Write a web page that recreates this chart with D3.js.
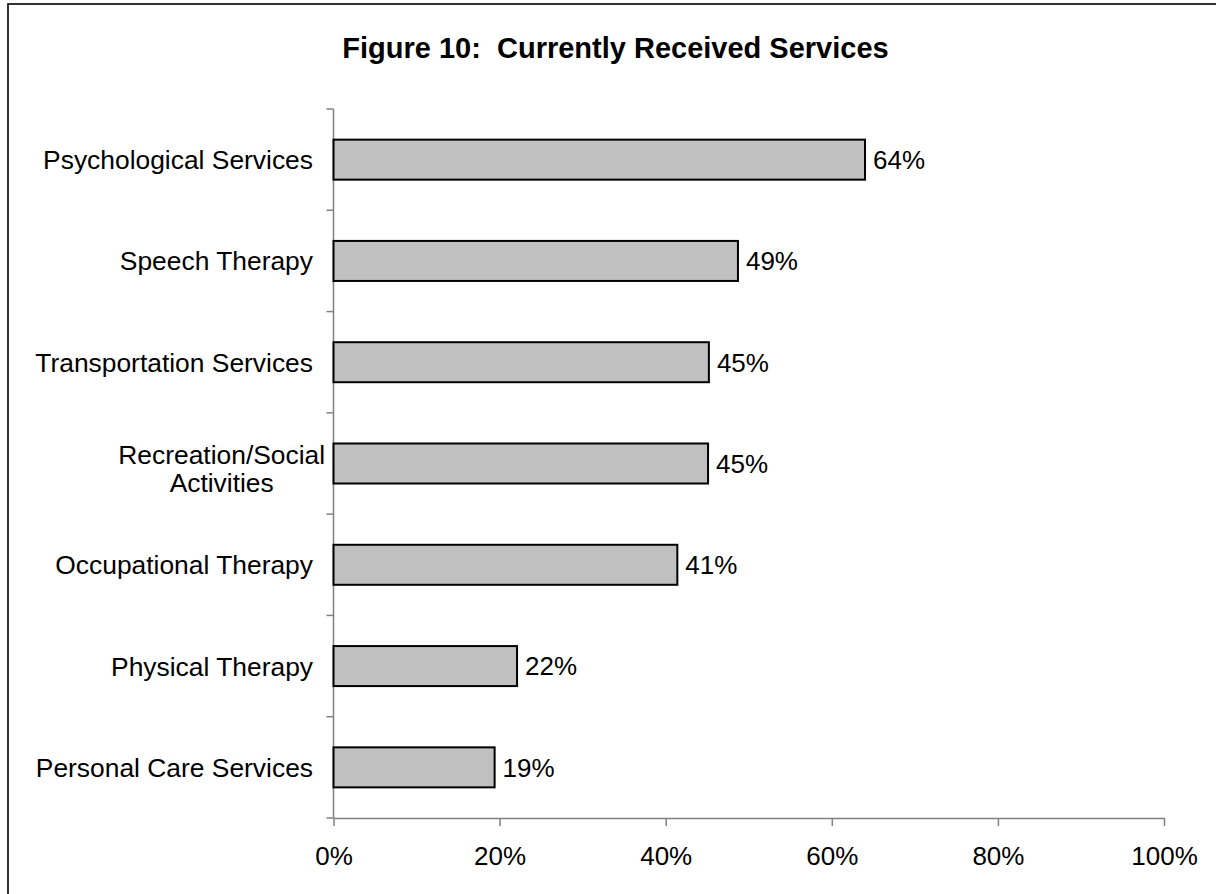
<!DOCTYPE html>
<html>
<head>
<meta charset="utf-8">
<script src="https://cdn.jsdelivr.net/npm/d3@7"></script>
<style>
  html, body { margin: 0; padding: 0; background: #fff; }
  svg { display: block; font-family: "Liberation Sans", Arial, sans-serif; }
</style>
</head>
<body>
<svg id="chart" width="1216" height="894"></svg>
<script>
const title = "Figure 10:  Currently Received Services";
const categories = [
  ["Psychological Services"],
  ["Speech Therapy"],
  ["Transportation Services"],
  ["Recreation/Social", "Activities"],
  ["Occupational Therapy"],
  ["Physical Therapy"],
  ["Personal Care Services"]
];
const values = [0.64, 0.487, 0.452, 0.451, 0.414, 0.221, 0.194];
const valueLabels = ["64%", "49%", "45%", "45%", "41%", "22%", "19%"];
const xTickValues = [0, 0.2, 0.4, 0.6, 0.8, 1.0];

const svg = d3.select("#chart");
const W = 1216, H = 894;
const plot = { left: 333.5, right: 1164, top: 109, bottom: 818 };

// outer frame (extends beyond the viewport at right/bottom)
svg.append("rect")
  .attr("x", 8).attr("y", 4)
  .attr("width", W + 20).attr("height", H + 20)
  .attr("fill", "none").attr("stroke", "#000").attr("stroke-width", 1.6);

svg.append("text")
  .attr("x", 615.5).attr("y", 58)
  .attr("text-anchor", "middle")
  .attr("font-size", 29).attr("font-weight", "bold")
  .style("white-space", "pre")
  .text(title);

const keys = categories.map((c, i) => i);
const x = d3.scaleLinear().domain([0, 1]).range([plot.left, plot.right]);
const p = 0.605;
const y = d3.scaleBand().domain(keys).range([plot.top, plot.bottom])
  .paddingInner(p).paddingOuter(p / 2);
const yEdges = d3.scaleBand().domain(keys).range([plot.top, plot.bottom]).padding(0);

const axisColor = "#808080";

// y axis line + ticks at band edges
const yg = svg.append("g");
yg.append("line")
  .attr("x1", x(0)).attr("x2", x(0))
  .attr("y1", plot.top).attr("y2", plot.bottom)
  .attr("stroke", axisColor).attr("stroke-width", 1.5);
const edges = keys.map(k => yEdges(k)).concat([yEdges(keys[keys.length - 1]) + yEdges.step()]);
yg.selectAll("line.tick").data(edges).enter().append("line")
  .attr("class", "tick")
  .attr("x1", x(0) - 7).attr("x2", x(0))
  .attr("y1", d => d).attr("y2", d => d)
  .attr("stroke", axisColor).attr("stroke-width", 1.5);

// x axis
const xg = svg.append("g")
  .attr("transform", `translate(0,${plot.bottom})`)
  .call(d3.axisBottom(x).tickValues(xTickValues).tickFormat(d3.format(".0%")).tickSize(8).tickSizeOuter(0));
xg.select(".domain").attr("stroke", axisColor).attr("stroke-width", 1.5);
xg.selectAll(".tick line").attr("stroke", axisColor).attr("stroke-width", 1.5);
xg.selectAll(".tick text")
  .attr("font-size", 26).attr("font-family", "Liberation Sans, Arial, sans-serif")
  .attr("fill", "#000").attr("dy", null).attr("y", 47);

// bars
svg.append("g").selectAll("rect").data(values).enter().append("rect")
  .attr("x", x(0))
  .attr("y", (d, i) => y(i))
  .attr("width", d => x(d) - x(0))
  .attr("height", y.bandwidth())
  .attr("fill", "#c0c0c0").attr("stroke", "#000").attr("stroke-width", 2);

// value labels
svg.append("g").selectAll("text").data(values).enter().append("text")
  .attr("x", d => x(d) + 8)
  .attr("y", (d, i) => y(i) + y.bandwidth() / 2)
  .attr("dy", "0.36em")
  .attr("font-size", 26)
  .text((d, i) => valueLabels[i]);

// category labels
const lg = svg.append("g");
categories.forEach((lines, i) => {
  const cy = y(i) + y.bandwidth() / 2;
  const lh = 28;
  const multi = lines.length > 1;
  const t = lg.append("text")
    .attr("font-size", 26.4)
    .attr("text-anchor", multi ? "middle" : "end");
  lines.forEach((ln, j) => {
    t.append("tspan")
      .attr("x", multi ? 221.7 : 313)
      .attr("y", cy + (j - (lines.length - 1) / 2) * lh + (multi ? 4.5 : 0))
      .attr("dy", "0.36em")
      .text(ln);
  });
});
</script>
</body>
</html>
